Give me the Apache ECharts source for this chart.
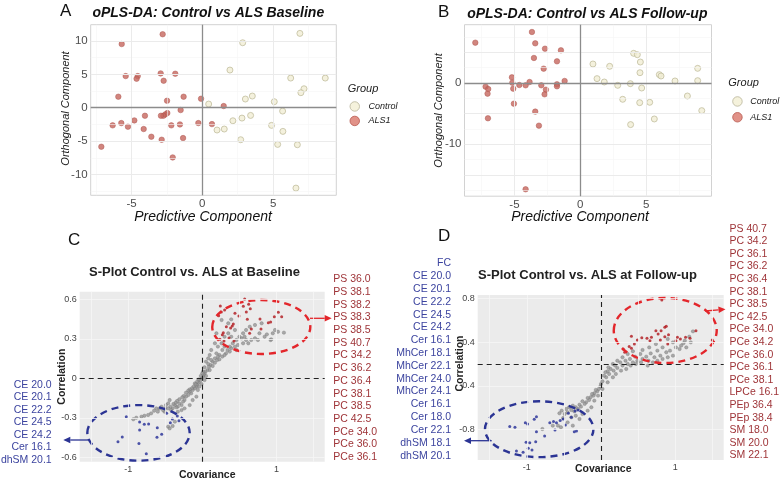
<!DOCTYPE html>
<html><head><meta charset="utf-8">
<script src="https://cdn.jsdelivr.net/npm/echarts@6/dist/echarts.min.js"></script>
<style>html,body{margin:0;padding:0;background:#fff}#c{width:780px;height:482px}</style>
</head><body><div id="c"></div><script>
// ---------- DATA ----------
// Panel A: oPLS-DA baseline scores [predictive, orthogonal]
const A_ALS = [[-2.80,11.0],[-5.69,9.53],[-5.41,4.74],[-4.56,4.74],[-4.64,4.34],[-2.94,5.14],[-1.91,5.09],[-2.73,4.04],[-5.93,1.65],[-2.49,1.05],[-1.32,1.65],[-0.09,1.35],[1.51,0.25],[-1.53,-0.35],[-2.47,-0.80],[-2.61,-1.0],[-2.75,-1.2],[-2.92,-1.2],[-4.05,-1.2],[-4.8,-1.9],[-5.72,-2.3],[-6.33,-2.64],[-5.25,-2.84],[-4.14,-3.19],[-2.19,-2.64],[-1.58,-2.5],[-0.28,-2.3],[0.68,-2.45],[-3.6,-4.34],[-2.87,-4.79],[-1.36,-4.54],[-7.13,-5.84],[-2.09,-7.44]];
const A_CONTROL = [[6.89,11.13],[2.85,9.73],[1.95,5.64],[6.24,4.44],[8.68,4.44],[7.18,2.84],[6.96,2.25],[3.53,1.75],[3.04,1.30],[5.08,0.9],[0.45,0.55],[5.67,-0.5],[3.41,-1.15],[2.8,-1.55],[2.16,-1.95],[1.04,-3.34],[1.55,-3.19],[4.89,-2.64],[5.69,-3.54],[2.71,-4.79],[5.32,-5.49],[6.71,-5.54],[6.61,-12.03]];
// Panel B: oPLS-DA follow-up scores
const B_ALS = [[-7.97,6.58],[-3.67,8.32],[-3.42,6.47],[-2.68,5.6],[-1.47,5.33],[-3.52,4.08],[-1.77,3.53],[-2.78,2.34],[-5.19,0.92],[-5.16,0.05],[-4.63,-0.33],[-4.15,-0.38],[-3.85,0.16],[-2.96,-0.38],[-1.77,-0.22],[-1.77,-0.54],[-1.19,0.33],[-7.19,-0.6],[-6.99,-0.98],[-7.04,-1.74],[-5.09,-0.92],[-2.61,-1.09],[-2.71,-1.85],[-5.04,-3.37],[-3.42,-4.67],[-7.01,-5.76],[-3.14,-6.96],[-4.15,-17.34]];
const B_CONTROL = [[4.05,4.84],[4.33,4.62],[4.56,3.42],[0.96,3.1],[2.23,2.72],[4.53,1.68],[8.91,2.39],[6.0,1.36],[6.13,1.14],[1.27,0.71],[1.82,0.16],[7.19,0.33],[8.91,0.38],[3.8,-0.11],[2.84,-0.38],[4.66,-0.82],[8.13,-2.12],[3.22,-2.66],[4.51,-3.21],[5.27,-3.15],[9.22,-4.51],[5.62,-5.87],[3.82,-6.79]];
// Panel C: S-plot baseline [covariance, correlation]
const C_GRAY = [[1.02,0.354],[1.10,0.347],[0.95,0.342],[0.92,0.291],[0.87,0.334],[0.77,0.342],[0.71,0.304],[0.66,0.291],[0.59,0.291],[0.55,0.266],[0.53,0.304],[0.48,0.253],[0.44,0.241],[0.46,0.215],[0.39,0.228],[0.37,0.203],[0.32,0.190],[0.30,0.241],[0.27,0.215],[0.23,0.177],[0.21,0.165],[0.19,0.190],[0.17,0.152],[0.14,0.127],[0.12,0.139],[0.11,0.101],[0.09,0.089],[0.08,0.109],[0.07,0.063],[0.04,0.051],[0.03,0.038],[0.02,0.025],[0.01,0.013],[-0.01,0.0],[-0.03,-0.018],[-0.05,-0.033],[-0.07,-0.051],[-0.08,-0.063],[-0.10,-0.076],[-0.13,-0.089],[-0.15,-0.114],[-0.17,-0.101],[-0.19,-0.127],[-0.22,-0.139],[-0.24,-0.165],[-0.26,-0.177],[-0.28,-0.203],[-0.31,-0.190],[-0.33,-0.215],[-0.35,-0.220],[-0.37,-0.203],[-0.40,-0.228],[-0.42,-0.241],[-0.44,-0.165],[-0.46,-0.190],[-0.49,-0.203],[-0.50,-0.228],[-0.51,-0.253],[-0.53,-0.241],[-0.55,-0.215],[-0.58,-0.230],[-0.60,-0.253],[-0.62,-0.228],[-0.65,-0.246],[-0.69,-0.266],[-0.73,-0.278],[-0.78,-0.284],[-0.82,-0.291],[-0.89,-0.299],[-0.93,-0.311],[-0.46,-0.367],[-0.44,-0.380],[-0.40,-0.362],[-0.37,-0.329],[-0.33,-0.253],[-0.28,-0.241],[-0.24,-0.228],[-0.17,-0.203],[-0.13,-0.165],[-0.08,-0.139],[-0.06,-0.089],[-0.10,-0.038],[-0.04,-0.063],[-0.01,-0.043],[0.03,-0.013],[0.05,0.018],[0.10,0.063],[0.14,0.094],[0.17,0.119],[0.20,0.139],[0.23,0.144],[0.27,0.165],[0.30,0.177],[0.34,0.215],[0.37,0.241],[0.41,0.266],[0.46,0.291],[0.50,0.316],[0.55,0.342],[0.59,0.367],[0.64,0.392],[0.71,0.405],[0.80,0.418],[0.84,0.316],[0.93,0.296],[0.98,0.367],[0.44,0.367],[0.35,0.342],[0.30,0.316],[0.26,0.266],[0.21,0.241],[0.39,0.316],[0.57,0.316],[0.62,0.266],[0.75,0.291],[0.35,0.418],[0.26,0.443],[0.39,0.448],[0.19,0.342],[0.17,0.266],[0.12,0.215],[0.10,0.177],[0.08,0.152],[0.05,0.127],[0.03,0.084],[0.01,0.051],[0.00,0.038],[-0.02,0.018],[-0.05,-0.008],[-0.07,-0.025],[-0.09,-0.046],[-0.12,-0.063],[-0.14,-0.076],[-0.17,-0.084],[-0.19,-0.094],[-0.22,-0.109],[-0.25,-0.134],[-0.27,-0.144],[-0.31,-0.159],[-0.34,-0.172],[-0.36,-0.185],[-0.39,-0.195],[-0.43,-0.215],[-0.46,-0.228]];
const C_RED = [[0.571,0.603],[0.625,0.562],[0.243,0.549],[0.301,0.519],[0.553,0.547],[0.647,0.529],[0.256,0.504],[0.220,0.476],[0.440,0.494],[0.494,0.473],[0.607,0.448],[0.778,0.451],[1.025,0.501],[0.971,0.468],[1.070,0.468],[0.921,0.428],[0.890,0.423],[0.418,0.413],[0.404,0.397],[0.382,0.382],[0.324,0.392],[0.661,0.375],[0.791,0.375],[0.638,0.342],[0.270,0.332],[0.360,0.306],[0.427,0.284],[0.292,0.284],[0.238,0.296],[0.283,0.347],[0.593,0.504]];
const C_BLUE = [[-1.025,-0.291],[-0.845,-0.332],[-0.782,-0.349],[-0.724,-0.347],[-0.845,-0.392],[-0.607,-0.375],[-0.548,-0.425],[-0.611,-0.448],[-0.337,-0.286],[-0.315,-0.322],[-0.404,-0.309],[-1.079,-0.446],[-1.137,-0.481],[-0.854,-0.494],[-0.755,-0.572],[-0.481,-0.266],[-0.431,-0.337]];
// Panel D: S-plot follow-up [covariance, correlation (axis units)]
const D_GRAY = [[1.24,0.500],[1.19,0.451],[1.13,0.414],[1.08,0.369],[1.01,0.353],[0.97,0.399],[0.93,0.323],[0.88,0.308],[0.83,0.353],[0.80,0.277],[0.76,0.323],[0.72,0.262],[0.67,0.298],[0.64,0.231],[0.61,0.268],[0.56,0.247],[0.53,0.292],[0.49,0.231],[0.46,0.268],[0.43,0.216],[0.39,0.247],[0.36,0.201],[0.33,0.231],[0.29,0.187],[0.26,0.216],[0.22,0.165],[0.19,0.187],[0.17,0.140],[0.13,0.155],[0.11,0.109],[0.09,0.134],[0.07,0.079],[0.04,0.094],[0.02,0.042],[0.00,0.018],[-0.01,-0.006],[-0.03,-0.028],[-0.05,-0.049],[-0.07,-0.037],[-0.09,-0.068],[-0.10,-0.089],[-0.12,-0.074],[-0.14,-0.104],[-0.16,-0.129],[-0.18,-0.111],[-0.20,-0.150],[-0.22,-0.165],[-0.25,-0.141],[-0.27,-0.190],[-0.29,-0.172],[-0.31,-0.212],[-0.34,-0.196],[-0.36,-0.233],[-0.38,-0.181],[-0.40,-0.221],[-0.43,-0.196],[-0.45,-0.242],[-0.47,-0.212],[-0.49,-0.257],[-0.53,-0.227],[-0.56,-0.251],[-0.58,-0.364],[-0.54,-0.379],[-0.29,-0.303],[-0.25,-0.257],[-0.18,-0.227],[-0.13,-0.196],[-0.09,-0.135],[-0.04,-0.089],[0.02,-0.028],[0.09,0.033],[0.16,0.079],[0.20,0.109],[0.27,0.140],[0.34,0.155],[0.40,0.186],[0.47,0.201],[0.54,0.216],[0.63,0.186],[0.70,0.216],[0.76,0.231],[0.83,0.247],[0.90,0.262],[0.97,0.277],[1.06,0.338],[1.15,0.353],[1.11,0.390],[1.21,0.399],[0.29,0.262],[0.36,0.292],[0.43,0.317],[0.56,0.329],[0.65,0.353],[0.74,0.384],[0.90,0.430],[0.22,0.231],[0.16,0.201],[0.10,0.170],[0.06,0.125],[-0.34,-0.273],[-0.40,-0.288],[-0.45,-0.334],[-0.51,-0.294],[-0.38,-0.364],[-0.65,-0.364],[-0.79,-0.395]];
const D_RED = [[0.82,0.787],[0.86,0.537],[0.88,0.546],[0.81,0.506],[0.77,0.476],[0.91,0.469],[1.03,0.445],[0.86,0.451],[1.01,0.414],[0.80,0.420],[0.68,0.445],[0.62,0.436],[0.55,0.442],[0.49,0.420],[0.41,0.454],[0.45,0.384],[0.38,0.360],[0.41,0.344],[0.30,0.338],[0.32,0.308],[1.07,0.430],[1.14,0.445],[1.20,0.436],[1.50,0.420],[1.28,0.506],[0.66,0.414],[0.90,0.384],[0.74,0.506]];
const D_BLUE = [[-1.23,-0.373],[-1.16,-0.379],[-1.02,-0.337],[-0.99,-0.349],[-0.87,-0.282],[-0.90,-0.306],[-0.69,-0.337],[-0.64,-0.327],[-0.60,-0.337],[-0.55,-0.318],[-0.51,-0.303],[-0.35,-0.230],[-0.31,-0.221],[-0.48,-0.358],[-0.36,-0.419],[-0.33,-0.413],[-0.87,-0.419],[-0.76,-0.459],[-1.01,-0.517],[-0.96,-0.520],[-0.88,-0.511],[-0.93,-0.587],[-1.14,-0.596],[-1.05,-0.608],[-0.98,-0.572],[-0.62,-0.404],[-0.44,-0.251],[-0.40,-0.288]];
// Ellipses [cx, cy, rx, ry] in data units
const C_RED_ELLIPSE = [0.795,0.390,0.661,0.205];
const C_BLUE_ELLIPSE = [-0.860,-0.414,0.690,0.211];
const D_RED_ELLIPSE = [0.866,0.508,0.694,0.298];
const D_BLUE_ELLIPSE = [-0.833,-0.397,0.731,0.256];
// Tick labels
const A_X_TICKS = [-5,0,5];
const A_Y_TICKS = [-10,-5,0,5,10];
const B_X_TICKS = [-5,0,5];
const B_Y_TICKS = [-10,0];
const C_X_TICKS = [-1,1];
const C_Y_TICKS = [-0.6,-0.3,0,0.3,0.6];
const D_X_TICKS = [-1,1];
const D_Y_TICK_POS = [0.8,0.4,0,-0.4];
const D_Y_TICK_TEXT = ['0.8','0.4','-0.4','-0.8'];
const D_ZERO_LINE = 0.2;
// Lipid labels
const C_RIGHT_LABELS = ['PS 36.0','PS 38.1','PS 38.2','PS 38.3','PS 38.5','PS 40.7','PC 34.2','PC 36.2','PC 36.4','PC 38.1','PC 38.5','PC 42.5','PCe 34.0','PCe 36.0','PCe 36.1'];
const C_LEFT_LABELS = ['CE 20.0','CE 20.1','CE 22.2','CE 24.5','CE 24.2','Cer 16.1','dhSM 20.1'];
const D_RIGHT_LABELS = ['PS 40.7','PC 34.2','PC 36.1','PC 36.2','PC 36.4','PC 38.1','PC 38.5','PC 42.5','PCe 34.0','PCe 34.2','PCe 36.0','PCe 36.1','PCe 38.1','LPCe 16.1','PEp 36.4','PEp 38.4','SM 18.0','SM 20.0','SM 22.1'];
const D_LEFT_LABELS = ['FC','CE 20.0','CE 20.1','CE 22.2','CE 24.5','CE 24.2','Cer 16.1','MhCer 18.1','MhCer 22.1','MhCer 24.0','MhCer 24.1','Cer 16.1','Cer 18.0','Cer 22.1','dhSM 18.1','dhSM 20.1'];

// ---------- STYLE / LAYOUT ----------
const FONT = '"Liberation Sans", Arial, sans-serif';
const RED_TXT = '#9e3337', BLUE_TXT = '#3c449f';
const RED_LINE = '#e3262b', BLUE_LINE = '#2b3494';

function refLines(idx, xs, ys, style, z) {
  return {type:'scatter', xAxisIndex:idx, yAxisIndex:idx, data:[], silent:true, z:z||1,
    markLine:{silent:true, symbol:'none', animation:false, label:{show:false}, emphasis:{disabled:true},
      lineStyle:style, data:[...xs.map(v=>({xAxis:v})), ...ys.map(v=>({yAxis:v}))]}};
}
function ellipseSeries(idx, e, color) {
  return {type:'custom', xAxisIndex:idx, yAxisIndex:idx, data:[e], silent:true, z:4, clip:false,
    renderItem:(params, api) => {
      const c = api.coord([api.value(0), api.value(1)]);
      const s = api.size([api.value(2), api.value(3)]);
      return {type:'ellipse', shape:{cx:c[0], cy:c[1], rx:s[0], ry:s[1]},
        style:{fill:'none', stroke:color, lineWidth:2.4, lineDash:[7,5]}};
    }};
}
const pcaAxisLabel = (vals) => ({customValues:vals, margin:3, fontSize:11.5, color:'#4d4d4d', fontFamily:FONT});
const sAxisLabel = (vals, fmt) => ({customValues:vals, margin:3, fontSize:9, color:'#444', fontFamily:FONT, formatter:fmt});
const hidden = {axisLine:{show:false}, axisTick:{show:false}, splitLine:{show:false}, nameMoveOverlap:false};
const pcaName = (pad) => ({fontSize:14, fontStyle:'italic', color:'#111', fontFamily:FONT, padding:pad});
const pcaYName = (pad) => ({fontSize:11, fontStyle:'italic', color:'#222', fontFamily:FONT, padding:pad});
const sName = (pad) => ({fontSize:10.5, fontWeight:'bold', color:'#222', fontFamily:FONT, padding:pad});

const alsStyle = {color:'#c5665e', borderColor:'#ad554e', borderWidth:0.6};
const ctlStyle = {color:'#f1eed5', borderColor:'#c2be9f', borderWidth:1};

function txt(x, y, text, fill, size, align, extra) {
  return {type:'text', x:x, y:y, silent:true, style:{text:text, fill:fill,
    font:(extra||'') + ' ' + size + 'px ' + FONT, textAlign:align, textVerticalAlign:'middle',
    align:align, verticalAlign:'middle'}};
}
function labelColumn(list, x, y0, step, fill, align) {
  return list.map((t, i) => txt(x, y0 + i*step, t, fill, 10.5, align));
}
function arrow(x1, y1, x2, y2, color) {
  const dx = x2-x1, dy = y2-y1, L = Math.hypot(dx,dy), ux = dx/L, uy = dy/L;
  const hl = 7, hw = 3.3;
  const bx = x2 - ux*hl, by = y2 - uy*hl;
  return [
    {type:'line', silent:true, shape:{x1:x1, y1:y1, x2:bx, y2:by}, style:{stroke:color, lineWidth:1.3}},
    {type:'polygon', silent:true, shape:{points:[[x2,y2],[bx - uy*hw, by + ux*hw],[bx + uy*hw, by - ux*hw]]}, style:{fill:color}}
  ];
}

const option = {
  animation:false,
  backgroundColor:'#fff',
  textStyle:{fontFamily:FONT},
  title:[
    {text:'oPLS-DA: Control vs ALS Baseline', left:208.3, top:13.3, textAlign:'center', textVerticalAlign:'middle', padding:0,
      textStyle:{fontSize:14, fontWeight:'bold', fontStyle:'italic', color:'#111', fontFamily:FONT}},
    {text:'oPLS-DA: Control vs ALS Follow-up', left:587.3, top:14, textAlign:'center', textVerticalAlign:'middle', padding:0,
      textStyle:{fontSize:14, fontWeight:'bold', fontStyle:'italic', color:'#111', fontFamily:FONT}},
    {text:'S-Plot Control vs. ALS at Baseline', left:194.5, top:272, textAlign:'center', textVerticalAlign:'middle', padding:0,
      textStyle:{fontSize:13, fontWeight:'bold', color:'#222', fontFamily:FONT}},
    {text:'S-Plot Control vs. ALS at Follow-up', left:587.5, top:275.5, textAlign:'center', textVerticalAlign:'middle', padding:0,
      textStyle:{fontSize:13, fontWeight:'bold', color:'#222', fontFamily:FONT}}
  ],
  legend:[
    {orient:'vertical', left:349.5, top:101.2, itemWidth:9.5, itemHeight:9.5, itemGap:4, padding:0, selectedMode:false,
      textStyle:{fontSize:9, fontStyle:'italic', color:'#222', fontFamily:FONT, padding:[0,0,0,4]},
      data:[{name:'Control', icon:'circle', itemStyle:{color:'#f2efd3', borderColor:'#b8b49a', borderWidth:1}},
            {name:'ALS1', icon:'circle', itemStyle:{color:'#d9776a', borderColor:'#b8594f', borderWidth:1}}]},
    {orient:'vertical', left:732.2, top:96.2, itemWidth:9.5, itemHeight:9.5, itemGap:5.3, padding:0, selectedMode:false,
      textStyle:{fontSize:9, fontStyle:'italic', color:'#222', fontFamily:FONT, padding:[0,0,0,3]},
      data:[{name:'Control', icon:'circle', itemStyle:{color:'#f2efd3', borderColor:'#b8b49a', borderWidth:1}},
            {name:'ALS1', icon:'circle', itemStyle:{color:'#d9776a', borderColor:'#b8594f', borderWidth:1}}]}
  ],
  grid:[
    {left:90.7, top:24.7, width:245.6, height:170.6, show:true, borderColor:'#d2d2d2', borderWidth:1, backgroundColor:'#fff', outerBoundsMode:'none'},
    {left:464.5, top:24.7, width:247, height:171.5, show:true, borderColor:'#d2d2d2', borderWidth:1, backgroundColor:'#fff', outerBoundsMode:'none'},
    {left:79.7, top:291.7, width:245, height:170, show:true, borderWidth:0, backgroundColor:'#ebebeb', outerBoundsMode:'none'},
    {left:477.7, top:295, width:246, height:165, show:true, borderWidth:0, backgroundColor:'#ebebeb', outerBoundsMode:'none'}
  ],
  xAxis:[
    Object.assign({gridIndex:0, type:'value', min:-7.88, max:9.46, axisLabel:pcaAxisLabel(A_X_TICKS),
      name:'Predictive Component', nameLocation:'middle', nameGap:14.5, nameTextStyle:pcaName([0,21,0,0])}, hidden),
    Object.assign({gridIndex:1, type:'value', min:-8.79, max:9.96, axisLabel:pcaAxisLabel(B_X_TICKS),
      name:'Predictive Component', nameLocation:'middle', nameGap:14, nameTextStyle:pcaName([0,16,0,0])}, hidden),
    Object.assign({gridIndex:2, type:'value', min:-1.653, max:1.650, axisLabel:sAxisLabel(C_X_TICKS),
      name:'Covariance', nameLocation:'middle', nameGap:8, nameTextStyle:sName([0,0,0,10])}, hidden),
    Object.assign({gridIndex:3, type:'value', min:-1.662, max:1.654, axisLabel:sAxisLabel(D_X_TICKS),
      name:'Covariance', nameLocation:'middle', nameGap:3.5, nameTextStyle:sName([0,0,0,5])}, hidden)
  ],
  yAxis:[
    Object.assign({gridIndex:0, type:'value', min:-13.11, max:12.43, axisLabel:pcaAxisLabel(A_Y_TICKS),
      name:'Orthogonal Component', nameLocation:'middle', nameGap:19.4, nameTextStyle:pcaYName([0,0,0,3])}, hidden),
    Object.assign({gridIndex:1, type:'value', min:-18.47, max:9.51, axisLabel:pcaAxisLabel(B_Y_TICKS),
      name:'Orthogonal Component', nameLocation:'middle', nameGap:20, nameTextStyle:pcaYName([0,0,0,0])}, hidden),
    Object.assign({gridIndex:2, type:'value', min:-0.633, max:0.658, axisLabel:sAxisLabel(C_Y_TICKS, v => String(v)),
      name:'Correlation', nameLocation:'middle', nameGap:12, nameTextStyle:sName([0,0,0,0])}, hidden),
    Object.assign({gridIndex:3, type:'value', min:-0.679, max:0.833,
      axisLabel:sAxisLabel(D_Y_TICK_POS, v => { const i = D_Y_TICK_POS.findIndex(p => Math.abs(p - v) < 1e-6); return i >= 0 ? D_Y_TICK_TEXT[i] : ''; }),
      name:'Correlation', nameLocation:'middle', nameGap:11.7, nameTextStyle:sName([0,0,0,28])}, hidden)
  ],
  series:[
    // Panel A
    refLines(0, [-7.5,-2.5,2.5,7.5], [12.5,7.5,2.5,-2.5,-7.5,-12.5], {color:'#f5f5f5', width:0.6, type:'solid'}),
    refLines(0, [-5,5], [10,5,-5,-10], {color:'#ebebeb', width:1, type:'solid'}),
    refLines(0, [0], [0], {color:'#8c8c8c', width:1.3, type:'solid'}, 2),
    {type:'scatter', name:'Control', xAxisIndex:0, yAxisIndex:0, data:A_CONTROL, symbolSize:6, itemStyle:ctlStyle, z:3},
    {type:'scatter', name:'ALS1', xAxisIndex:0, yAxisIndex:0, data:A_ALS, symbolSize:5.5, itemStyle:alsStyle, z:3},
    // Panel B
    refLines(1, [-7.5,-2.5,2.5,7.5], [7.5,2.5,-2.5,-7.5,-12.5,-17.5], {color:'#f5f5f5', width:0.6, type:'solid'}),
    refLines(1, [-5,5], [5,-5,-10,-15], {color:'#ebebeb', width:1, type:'solid'}),
    refLines(1, [0], [0], {color:'#8c8c8c', width:1.3, type:'solid'}, 2),
    {type:'scatter', name:'Control', xAxisIndex:1, yAxisIndex:1, data:B_CONTROL, symbolSize:6, itemStyle:ctlStyle, z:3},
    {type:'scatter', name:'ALS1', xAxisIndex:1, yAxisIndex:1, data:B_ALS, symbolSize:5.5, itemStyle:alsStyle, z:3},
    // Panel C
    refLines(2, [-1.5,-1,-0.5,0.5,1,1.5], [0.6,0.3,-0.3,-0.6], {color:'#f6f6f6', width:0.8, type:'solid'}),
    refLines(2, [0], [0], {color:'#222', width:1.1, type:[5,4]}, 2),
    {type:'scatter', xAxisIndex:2, yAxisIndex:2, data:C_GRAY, symbolSize:3.4, itemStyle:{color:'#969696', borderColor:'#6f6f6f', borderWidth:0.4}, z:3, silent:true},
    {type:'scatter', xAxisIndex:2, yAxisIndex:2, data:C_RED, symbolSize:3, itemStyle:{color:'#b0171b'}, z:3, silent:true},
    {type:'scatter', xAxisIndex:2, yAxisIndex:2, data:C_BLUE, symbolSize:3, itemStyle:{color:'#232c96'}, z:3, silent:true},
    ellipseSeries(2, C_RED_ELLIPSE, RED_LINE),
    ellipseSeries(2, C_BLUE_ELLIPSE, BLUE_LINE),
    // Panel D
    refLines(3, [-1.5,-1,-0.5,0.5,1,1.5], [0.8,0.4,0,-0.4], {color:'#f6f6f6', width:0.8, type:'solid'}),
    refLines(3, [0], [D_ZERO_LINE], {color:'#222', width:1.1, type:[5,4]}, 2),
    {type:'scatter', xAxisIndex:3, yAxisIndex:3, data:D_GRAY, symbolSize:3.4, itemStyle:{color:'#969696', borderColor:'#6f6f6f', borderWidth:0.4}, z:3, silent:true},
    {type:'scatter', xAxisIndex:3, yAxisIndex:3, data:D_RED, symbolSize:3, itemStyle:{color:'#b0171b'}, z:3, silent:true},
    {type:'scatter', xAxisIndex:3, yAxisIndex:3, data:D_BLUE, symbolSize:3, itemStyle:{color:'#232c96'}, z:3, silent:true},
    ellipseSeries(3, D_RED_ELLIPSE, RED_LINE),
    ellipseSeries(3, D_BLUE_ELLIPSE, BLUE_LINE)
  ],
  graphic:[
    txt(60, 11.5, 'A', '#111', 17, 'left'),
    txt(438, 12, 'B', '#111', 17, 'left'),
    txt(68, 240.5, 'C', '#111', 17, 'left'),
    txt(438, 236.5, 'D', '#111', 17, 'left'),
    txt(347.7, 89, 'Group', '#222', 11, 'left', 'italic'),
    txt(728.3, 83, 'Group', '#222', 11, 'left', 'italic'),
    ...labelColumn(C_RIGHT_LABELS, 333.3, 279.3, 12.71, RED_TXT, 'left'),
    ...labelColumn(C_LEFT_LABELS, 51.7, 385, 12.5, BLUE_TXT, 'right'),
    ...labelColumn(D_RIGHT_LABELS, 729.5, 228.8, 12.6, RED_TXT, 'left'),
    ...labelColumn(D_LEFT_LABELS, 451, 263.3, 12.83, BLUE_TXT, 'right'),
    ...arrow(310, 318.3, 331.7, 318.3, RED_LINE),
    ...arrow(90, 440, 63.3, 440, BLUE_LINE),
    ...arrow(705, 311, 725.5, 309.2, RED_LINE),
    ...arrow(491.7, 440.7, 464, 440.7, BLUE_LINE)
  ]
};
const chart = echarts.init(document.getElementById('c'), null, {renderer:'canvas'});
chart.setOption(option);
</script></body></html>
